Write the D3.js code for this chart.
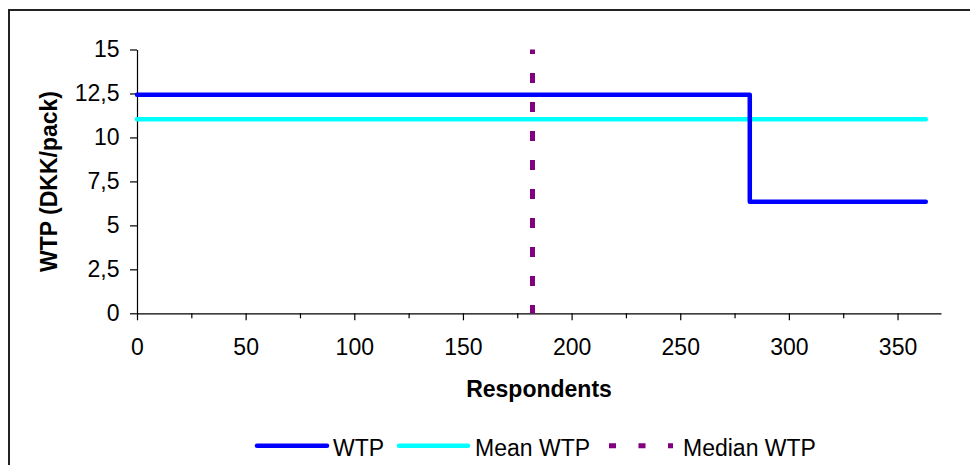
<!DOCTYPE html>
<html><head><meta charset="utf-8">
<script src="https://cdn.jsdelivr.net/npm/d3@7"></script>
<style>
html,body{margin:0;padding:0;background:#fff;}
svg{display:block;font-family:"Liberation Sans",Arial,sans-serif;}
</style></head>
<body>
<svg id="chart" width="970" height="465"></svg>
<script>
// Data
const wtpX = [0, 282, 282, 363];
const wtpY = [12.42, 12.42, 6.34, 6.34];
const meanX = [0, 363];
const meanY = [11.04, 11.04];
const medianX = [182, 182];
const medianY = [15, 0];
const xTicks = [0, 50, 100, 150, 200, 250, 300, 350];
const xMinorTicks = [25, 75, 125, 175, 225, 275, 325];
const yTicks = [0, 2.5, 5, 7.5, 10, 12.5, 15];
const legendNames = ["WTP", "Mean WTP", "Median WTP"];
const colors = ["#0000FF", "#00FFFF", "#800080"];

const FONT = "Liberation Sans, Arial, sans-serif";
const svg = d3.select("#chart");
svg.append("rect").attr("x", 9).attr("y", 10).attr("width", 980).attr("height", 470)
  .attr("fill", "#fff").attr("stroke", "#222").attr("stroke-width", 2);

const x = d3.scaleLinear().domain([0, 370]).range([137, 941]);
const y = d3.scaleLinear().domain([0, 15]).range([313.3, 49.5]);

const fmt = d => String(d).replace(".", ",");

// Y axis
const yAxis = svg.append("g").attr("transform", `translate(${x(0)},0)`)
  .call(d3.axisLeft(y).tickValues(yTicks).tickFormat(fmt).tickSize(7).tickPadding(10.5).tickSizeOuter(0));
yAxis.selectAll("text").attr("font-size", 23).attr("fill", "#000").attr("font-family", FONT);

// X minor ticks
svg.append("g").attr("transform", `translate(0,${y(0)})`)
  .call(d3.axisBottom(x).tickValues(xMinorTicks).tickFormat("").tickSize(5).tickSizeOuter(0))
  .select(".domain").remove();
// X axis
const xAxis = svg.append("g").attr("transform", `translate(0,${y(0)})`)
  .call(d3.axisBottom(x).tickValues(xTicks).tickFormat(d => d).tickSize(7).tickPadding(18).tickSizeOuter(0));
xAxis.selectAll("text").attr("font-size", 23).attr("fill", "#000").attr("font-family", FONT);
svg.selectAll(".domain, .tick line").attr("stroke", "#000").attr("stroke-width", 1.2);

// Axis titles
svg.append("text").attr("x", 539).attr("y", 396.5).attr("text-anchor", "middle")
  .attr("font-size", 23).attr("font-weight", "bold").text("Respondents");
svg.append("text").attr("transform", "translate(57,181.5) rotate(-90)").attr("text-anchor", "middle")
  .attr("font-size", 23).attr("font-weight", "bold").text("WTP (DKK/pack)");

const line = d3.line().x(d => x(d[0])).y(d => y(d[1]));

// Median dashed
svg.append("path").attr("d", line(d3.zip(medianX, medianY)))
  .attr("fill", "none").attr("stroke", colors[2]).attr("stroke-width", 5)
  .attr("stroke-dasharray", "10,19").attr("stroke-dashoffset", 5.5);
// Mean
svg.append("path").attr("d", line(d3.zip(meanX, meanY)))
  .attr("fill", "none").attr("stroke", colors[1]).attr("stroke-width", 4.5)
  .attr("stroke-linecap", "round");
// WTP
svg.append("path").attr("d", line(d3.zip(wtpX, wtpY)))
  .attr("fill", "none").attr("stroke", colors[0]).attr("stroke-width", 4.5)
  .attr("stroke-linecap", "round").attr("stroke-linejoin", "round");

// Legend
const legendItems = [
  {x1: 257, x2: 327, tx: 333, dash: null},
  {x1: 399, x2: 468, tx: 475, dash: null},
  {x1: 609, x2: 673, tx: 683, dash: "7,22.5"}
];
const ly = 445.7;
legendItems.forEach((it, i) => {
  svg.append("line").attr("x1", it.x1).attr("x2", it.x2).attr("y1", ly).attr("y2", ly)
    .attr("stroke", colors[i]).attr("stroke-width", i === 2 ? 5 : 4.5)
    .attr("stroke-linecap", it.dash ? "butt" : "round")
    .attr("stroke-dasharray", it.dash);
  svg.append("text").attr("x", it.tx).attr("y", 455.5).attr("font-size", 23)
    .attr("fill", "#000").text(legendNames[i]);
});
</script>
</body></html>
